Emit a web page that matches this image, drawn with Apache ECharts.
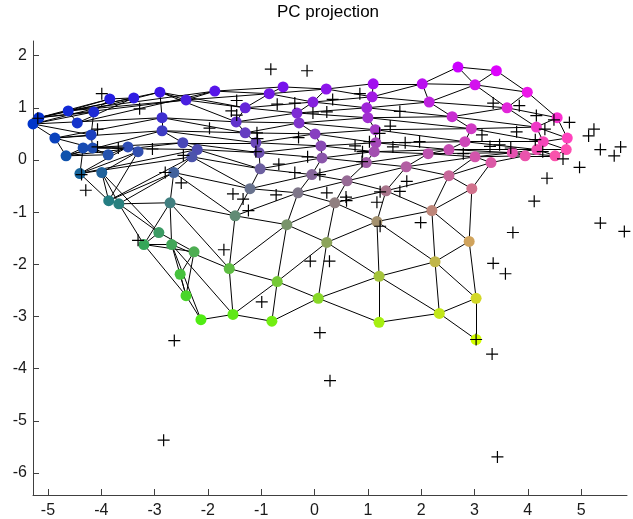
<!DOCTYPE html>
<html>
<head>
<meta charset="utf-8">
<script src="https://cdn.jsdelivr.net/npm/echarts@6/dist/echarts.min.js"></script>
<style>
  html, body { margin: 0; padding: 0; background: #ffffff; }
  #chart { width: 633px; height: 519px; }
</style>
</head>
<body>
<div id="chart"></div>
<script>
// Tick labels
const xTicks = [-5, -4, -3, -2, -1, 0, 1, 2, 3, 4, 5];
const yTicks = [-6, -5, -4, -3, -2, -1, 0, 1, 2];

// SOM units projected on the first two principal components.
// One array per map row (hexagonal lattice), 12 units each, [PC1, PC2].
const unitRow0 = [[-3.39,1.19],[-3.84,1.17],[-4.14,0.92],[-4.19,0.48],[-4.16,0.23],[-3.87,0.10],[-3.50,0.25],[-3.31,0.16],[-3.99,-0.24],[-2.92,-1.39],[-2.26,-1.76],[-2.52,-2.19]];
const unitRow1 = [[-4.45,0.71],[-4.62,0.94],[-5.17,0.81],[-5.28,0.69],[-4.87,0.42],[-4.66,0.08],[-4.34,0.23],[-4.40,-0.26],[-3.86,-0.78],[-3.67,-0.84],[-3.20,-1.62],[-2.41,-2.60]];
const unitRow2 = [[-1.87,1.32],[-2.41,1.15],[-2.90,1.30],[-2.86,0.81],[-2.86,0.56],[-2.47,0.33],[-2.20,0.20],[-2.30,0.06],[-2.64,-0.24],[-2.71,-0.82],[-2.68,-1.62],[-2.13,-3.06]];
const unitRow3 = [[-0.59,1.40],[-0.85,1.27],[-1.30,1.00],[-1.47,0.73],[-1.30,0.52],[-1.10,0.33],[-1.04,0.14],[-1.02,-0.17],[-1.21,-0.55],[-1.49,-1.07],[-1.60,-2.08],[-1.53,-2.96]];
const unitRow4 = [[0.22,1.36],[-0.03,1.11],[-0.33,0.90],[-0.29,0.71],[0.01,0.50],[0.12,0.27],[0.14,0.04],[-0.05,-0.28],[-0.31,-0.63],[-0.52,-1.24],[-0.70,-2.33],[-0.80,-3.09]];
const unitRow5 = [[1.10,1.46],[1.08,1.21],[0.98,1.00],[1.00,0.81],[1.14,0.58],[1.15,0.33],[1.12,0.16],[0.97,-0.05],[0.61,-0.40],[0.38,-0.82],[0.23,-1.58],[0.07,-2.65]];
const unitRow6 = [[2.02,1.46],[2.15,1.11],[2.58,0.83],[2.94,0.60],[2.82,0.35],[2.52,0.20],[2.13,0.12],[1.72,-0.13],[1.34,-0.59],[1.17,-1.18],[1.21,-2.23],[1.21,-3.11]];
const unitRow7 = [[2.69,1.78],[3.01,1.44],[3.61,1.00],[4.16,0.63],[4.29,0.35],[4.17,0.20],[3.71,0.14],[3.01,0.06],[2.52,-0.30],[2.20,-0.97],[2.26,-1.95],[2.34,-2.94]];
const unitRow8 = [[3.41,1.71],[3.99,1.30],[4.55,0.81],[4.74,0.42],[4.72,0.20],[4.51,0.08],[3.95,0.08],[3.31,-0.05],[2.95,-0.55],[2.90,-1.56],[3.03,-2.65],[3.03,-3.44]];

// Data samples projected on the same two components.
const samples = [
  [-3.99,1.27],[-3.28,0.98],[-5.19,0.80],[-4.07,0.59],[-4.07,0.25],[-3.68,0.23],[-3.04,0.21],
  [-2.80,-0.24],[-2.50,-0.44],[-4.37,-0.28],[-4.29,-0.58],[-3.31,-1.54],[-2.46,0.09],[-1.97,0.61],
  [-1.56,0.94],[-1.46,0.86],[-1.46,1.14],[-0.82,1.74],[-0.14,1.71],[-0.70,1.07],[-0.37,1.09],
  [-0.03,0.90],[0.23,0.92],[0.34,1.16],[0.85,1.27],[-1.08,0.52],[-1.07,0.41],[-1.10,0.16],
  [-0.30,0.43],[-0.13,0.06],[-0.67,-0.08],[-0.37,-0.24],[0.10,-0.28],[1.60,0.93],[1.42,0.65],
  [1.22,0.51],[1.03,0.35],[0.76,0.27],[0.90,0.16],[1.47,0.25],[1.70,0.33],[1.97,0.35],
  [0.89,-0.03],[2.79,0.12],[3.35,1.09],[3.84,1.04],[4.16,0.85],[4.49,0.77],[4.78,0.72],
  [4.32,0.59],[3.79,0.54],[3.14,0.48],[4.14,0.39],[5.24,0.59],[5.14,0.46],[3.47,0.29],
  [3.68,0.23],[3.29,0.26],[4.28,0.16],[4.66,0.02],[5.36,0.20],[5.74,0.25],[5.62,0.08],
  [4.97,-0.14],[-1.53,-0.65],[-1.34,-0.75],[-0.72,-0.67],[0.23,-0.63],[0.59,-0.71],[0.60,-0.78],
  [1.23,-0.61],[1.17,-0.81],[1.60,-0.60],[1.73,-0.41],[-1.24,-0.97],[-1.70,-1.72],[-0.08,-1.94],
  [0.28,-1.94],[-0.99,-2.72],[1.23,-1.27],[4.36,-0.35],[4.12,-0.79],[1.99,-1.20],[3.72,-1.39],
  [5.36,-1.21],[5.81,-1.37],[3.35,-1.98],[3.58,-2.18],[3.03,-3.44],[3.33,-3.72],[-2.63,-3.46],
  [0.10,-3.31],[0.29,-4.23],[-2.83,-5.37],[3.43,-5.69]
];

const mapRows = [unitRow0, unitRow1, unitRow2, unitRow3, unitRow4, unitRow5, unitRow6, unitRow7, unitRow8];
const nRows = mapRows.length;
const nCols = mapRows[0].length;

// Hexagonal lattice neighbours: along a row, and to the next row
// (even rows are offset half a step towards higher column indices).
const links = [];
for (let r = 0; r < nRows; r++) {
  for (let c = 0; c < nCols; c++) {
    const p = mapRows[r][c];
    if (c + 1 < nCols) links.push([p, mapRows[r][c + 1]]);
    if (r + 1 < nRows) {
      const next = mapRows[r + 1];
      const cols = (r % 2 === 0) ? [c, c + 1] : [c - 1, c];
      cols.forEach(k => { if (k >= 0 && k < nCols) links.push([p, next[k]]); });
    }
  }
}

// Unit colours follow their projected position:
// red grows to the right, green grows downward, blue is the complement of green.
const allUnits = mapRows.flat();
const xs = allUnits.map(p => p[0]);
const ys = allUnits.map(p => p[1]);
const xMin = Math.min(...xs), xMax = Math.max(...xs);
const yMin = Math.min(...ys), yMax = Math.max(...ys);
function unitColor(p) {
  const red = (p[0] - xMin) / (xMax - xMin);
  const green = (yMax - p[1]) / (yMax - yMin);
  const blue = 1 - green;
  const to255 = v => Math.round(Math.max(0, Math.min(1, v)) * 255);
  return 'rgb(' + to255(red) + ',' + to255(green) + ',' + to255(blue) + ')';
}

const FONT = '"Liberation Sans", Arial, Helvetica, sans-serif';
const AXIS_COLOR = '#404040';
const PLUS = 'path://M0,4.5 L10,4.5 L10,5.5 L0,5.5 Z M4.5,0 L5.5,0 L5.5,10 L4.5,10 Z';

const chart = echarts.init(document.getElementById('chart'), null, { renderer: 'canvas' });
chart.setOption({
  animation: false,
  backgroundColor: '#ffffff',
  title: {
    text: 'PC projection',
    left: 277,
    top: 4,
    padding: 0,
    textStyle: { fontFamily: FONT, fontSize: 17, fontWeight: 'normal', color: '#000000' }
  },
  grid: { left: 33, right: 6, top: 41, bottom: 23, containLabel: false },
  xAxis: {
    type: 'value',
    min: -5.28,
    max: 5.86,
    axisLine: { show: true, onZero: false, lineStyle: { color: AXIS_COLOR, width: 1 } },
    axisTick: { show: true, inside: true, length: 6, customValues: xTicks, lineStyle: { color: AXIS_COLOR } },
    axisLabel: { customValues: xTicks, fontFamily: FONT, fontSize: 16, color: '#1a1a1a', margin: 8 },
    splitLine: { show: false }
  },
  yAxis: {
    type: 'value',
    min: -6.42,
    max: 2.28,
    axisLine: { show: true, onZero: false, lineStyle: { color: AXIS_COLOR, width: 1 } },
    axisTick: { show: true, inside: true, length: 6, customValues: yTicks, lineStyle: { color: AXIS_COLOR } },
    axisLabel: { customValues: yTicks, fontFamily: FONT, fontSize: 16, color: '#1a1a1a', margin: 6 },
    splitLine: { show: false }
  },
  series: [
    {
      type: 'lines',
      coordinateSystem: 'cartesian2d',
      silent: true,
      z: 1,
      lineStyle: { color: '#000000', width: 1, opacity: 1, curveness: 0 },
      data: links.map(l => ({ coords: l }))
    },
    {
      type: 'scatter',
      silent: true,
      z: 2,
      symbol: 'circle',
      symbolSize: 11,
      data: allUnits.map(p => ({ value: p, itemStyle: { color: unitColor(p), opacity: 1 } }))
    },
    {
      type: 'scatter',
      silent: true,
      z: 3,
      symbol: PLUS,
      symbolSize: 12,
      itemStyle: { color: '#000000', opacity: 1 },
      data: samples
    }
  ]
});
</script>
</body>
</html>
